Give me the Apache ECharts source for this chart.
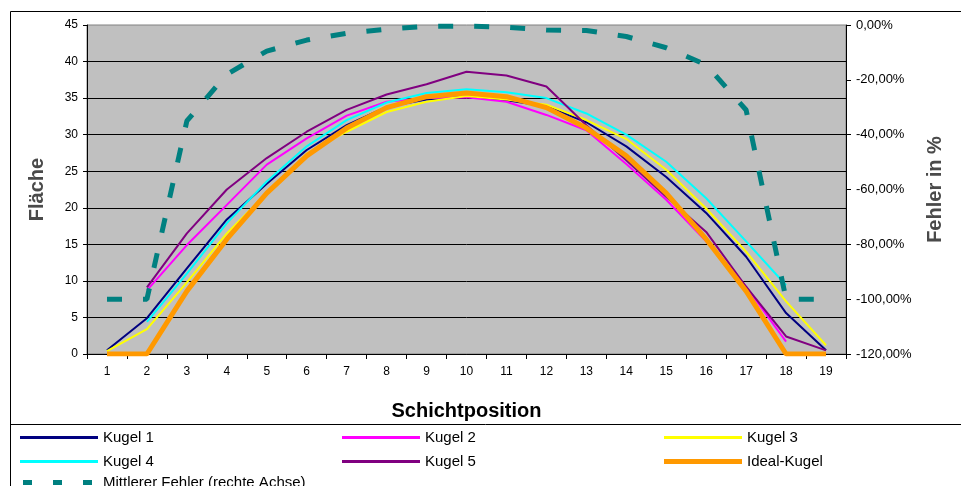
<!DOCTYPE html>
<html>
<head>
<meta charset="utf-8">
<script src="https://cdn.jsdelivr.net/npm/echarts@6/dist/echarts.min.js"></script>
<style>
  html, body { margin: 0; padding: 0; background: #fff; }
  #chart { width: 961px; height: 486px; }
</style>
</head>
<body>
<div id="chart"></div>
<script>
// Schichtposition 1..19
const positions = ['1', '2', '3', '4', '5', '6', '7', '8', '9', '10',
  '11', '12', '13', '14', '15', '16', '17', '18', '19'];

// Fläche je Kugel
const kugel1 = [0.5, 4.9, 11.7, 18.4, 23.3, 27.9, 31.3, 33.8, 34.8, 35.2, 34.7, 33.9, 31.7, 28.4, 24.2, 19.3, 13.3, 5.6, 0.5];
const kugel2 = [null, 8.7, 14.9, 20.4, 25.9, 29.5, 32.6, 34.5, 35.0, 35.1, 34.5, 32.7, 30.6, 26.0, 21.1, 15.4, 9.2, 1.7, null];
const kugel3 = [0.4, 3.4, 9.8, 16.5, 22.0, 27.4, 30.4, 33.1, 34.5, 35.3, 34.8, 34.1, 32.0, 29.4, 25.2, 19.9, 14.0, 7.2, 1.2];
const kugel4 = [null, 4.4, 11.0, 17.9, 23.6, 28.4, 32.0, 34.4, 35.7, 36.2, 35.8, 35.0, 32.9, 30.0, 26.3, 21.3, 15.4, 9.4, null];
const kugel5 = [null, 9.1, 16.5, 22.5, 26.8, 30.4, 33.4, 35.5, 36.9, 38.6, 38.1, 36.6, 31.3, 26.5, 21.5, 16.7, 9.2, 2.4, 0.5];
const idealKugel = [0, 0, 8.6, 15.7, 22.0, 27.1, 30.9, 33.7, 35.2, 35.7, 35.2, 33.7, 30.9, 27.1, 22.0, 15.7, 8.6, 0, 0];

// Mittlerer Fehler in % (rechte Achse)
const fehler = [-100, -100, -35, -18, -9.5, -5.5, -3, -1.5, -0.5, -0.4, -0.8, -1.8, -2, -4.2, -8.3, -14.5, -31, -100, -100];

const names = ['Kugel 1', 'Kugel 2', 'Kugel 3', 'Kugel 4', 'Kugel 5', 'Ideal-Kugel', 'Mittlerer Fehler (rechte Achse)'];
const colors = ['#000080', '#FF00FF', '#FFFF00', '#00FFFF', '#800080', '#FF9900', '#008080'];

const font = '"Liberation Sans", Arial, sans-serif';

let chart = echarts.init(document.getElementById('chart'));

function lineSeries(i, data, width) {
  return {
    name: names[i],
    type: 'line',
    data: data,
    symbol: 'none',
    color: colors[i],
    lineStyle: {color: colors[i], width: width},
    animation: false
  };
}

// eine Legende pro Eintrag, damit die Spalten wie im Original stehen
function legendAt(name, left, top, extra) {
  return Object.assign({
    data: [name],
    left: left,
    top: top,
    padding: 0,
    icon: 'rect',
    itemWidth: 78,
    itemHeight: 3,
    selectedMode: false,
    textStyle: {fontFamily: font, fontSize: 15, color: '#000'}
  }, extra || {});
}

const option = {
  animation: false,
  backgroundColor: '#fff',
  grid: {
    left: 87, right: 115, top: 25, bottom: 132,
    show: true,
    backgroundColor: '#C0C0C0',
    borderColor: '#808080',
    borderWidth: 1
  },
  legend: [
    legendAt(names[0], 20, 430),
    legendAt(names[1], 342, 430),
    legendAt(names[2], 664, 430),
    legendAt(names[3], 20, 454),
    legendAt(names[4], 342, 454),
    legendAt(names[5], 664, 454, {itemHeight: 5}),
    legendAt(names[6], 23, 475, {
      icon: 'path://M0,0h9v5h-9z M30,0h9v5h-9z M60,0h9v5h-9z',
      itemWidth: 69,
      itemHeight: 5,
      textStyle: {fontFamily: font, fontSize: 15, color: '#000', padding: [0, 0, 0, 6]}
    })
  ],
  xAxis: {
    type: 'category',
    data: positions,
    boundaryGap: true,
    axisLine: {lineStyle: {color: '#000', width: 1}},
    axisTick: {show: true, length: 5, lineStyle: {color: '#000'}},
    axisLabel: {color: '#000', fontFamily: font, fontSize: 12, margin: 12},
    name: 'Schichtposition',
    nameLocation: 'middle',
    nameGap: 47,
    nameTextStyle: {fontFamily: font, fontSize: 20, fontWeight: 'bold', color: '#000'}
  },
  yAxis: [
    {
      type: 'value',
      position: 'left',
      min: 0, max: 45, interval: 5,
      axisLine: {show: true, lineStyle: {color: '#000', width: 1}},
      axisTick: {show: true, length: 4, lineStyle: {color: '#000'}},
      axisLabel: {color: '#000', fontFamily: font, fontSize: 12, margin: 9},
      splitLine: {show: true, showMaxLine: false, lineStyle: {color: '#000', width: 1}},
      name: 'Fläche',
      nameLocation: 'middle',
      nameRotate: 90,
      nameGap: 40,
      nameTextStyle: {fontFamily: font, fontSize: 20, fontWeight: 'bold', color: '#4a4a4a'}
    },
    {
      type: 'value',
      position: 'right',
      min: -120, max: 0, interval: 20,
      axisLine: {show: true, lineStyle: {color: '#000', width: 1}},
      axisTick: {show: true, length: 5, lineStyle: {color: '#000'}},
      axisLabel: {
        color: '#000', fontFamily: font, fontSize: 13, margin: 10,
        formatter: v => v.toFixed(2).replace('.', ',') + '%'
      },
      splitLine: {show: false},
      name: 'Fehler in %',
      nameLocation: 'middle',
      nameRotate: 90,
      nameGap: 79,
      nameTextStyle: {fontFamily: font, fontSize: 20, fontWeight: 'bold', color: '#4a4a4a'}
    }
  ],
  series: [
    lineSeries(0, kugel1, 2),
    lineSeries(1, kugel2, 2),
    lineSeries(2, kugel3, 2),
    lineSeries(3, kugel4, 2),
    lineSeries(4, kugel5, 2),
    lineSeries(5, idealKugel, 5),
    Object.assign(lineSeries(6, fehler, 5), {
      yAxisIndex: 1,
      lineStyle: {color: colors[6], width: 5, type: [15, 21], cap: 'butt'}
    })
  ],
  graphic: [
    // Rahmen des Diagrammbereichs
    {type: 'rect', shape: {x: 10.5, y: 11.5, width: 1000, height: 1000},
      style: {fill: 'none', stroke: '#000', lineWidth: 1}, silent: true},
    // Trennlinie über der Legende
    {type: 'line', shape: {x1: 10, y1: 424.5, x2: 961, y2: 424.5},
      style: {stroke: '#000', lineWidth: 1}, silent: true}
  ]
};

chart.setOption(option);
</script>
</body>
</html>
